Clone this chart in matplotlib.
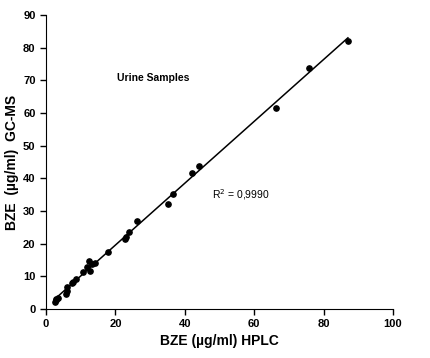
import numpy as np
import matplotlib.pyplot as plt

plt.rcParams['font.family'] = ['Liberation Sans', 'DejaVu Sans']

# BZE concentrations (ug/ml)
hplc = [2.6, 2.8, 3.0, 3.5, 5.8, 6.0, 6.1, 7.4, 7.9, 8.6, 10.8, 11.7, 12.5, 12.7,
        13.2, 14.1, 18.0, 22.9, 23.0, 24.0, 26.1, 35.2, 36.5, 42.1, 44.2, 66.3, 75.8, 87.0]
gcms = [2.2, 2.6, 3.0, 3.5, 4.6, 5.6, 6.8, 7.9, 8.4, 9.1, 11.4, 12.9, 14.8, 11.7,
        13.7, 14.0, 17.4, 21.5, 22.1, 23.6, 27.0, 32.1, 35.1, 41.5, 43.8, 61.5, 73.9, 82.2]
x_ticks = [0, 20, 40, 60, 80, 100]
y_ticks = [0, 10, 20, 30, 40, 50, 60, 70, 80, 90]

x = np.array(hplc)
y = np.array(gcms)
slope, intercept = np.polyfit(x, y, 1)
xl = np.array([x.min(), x.max()])

fig = plt.figure(figsize=(4.3, 3.58), dpi=100)
ax = fig.add_axes([0.107, 0.137, 0.807, 0.821])

ax.plot(xl, slope * xl + intercept, color='black', lw=1.1)
ax.plot(x, y, 'o', color='black', ms=3.8)

ax.set_xlim(0, 100)
ax.set_ylim(0, 90)
ax.set_xticks(x_ticks)
ax.set_yticks(y_ticks)
ax.spines['top'].set_visible(False)
ax.spines['right'].set_visible(False)
ax.tick_params(direction='out', length=4, width=1, labelsize=8)
for lbl in ax.get_xticklabels() + ax.get_yticklabels():
    lbl.set_fontweight('bold')

ax.set_xlabel('BZE (µg/ml) HPLC', fontsize=10, fontweight='bold', labelpad=3)
ax.set_ylabel('BZE  (µg/ml)  GC-MS', fontsize=10, fontweight='bold', labelpad=3)

ax.text(30.9, 70.7, 'Urine Samples', fontsize=7.5, fontweight='bold', ha='center', va='center')
ax.text(56, 34.9, 'R$^2$ = 0,9990', fontsize=7.5, ha='center', va='center')

fig.savefig('out.png', dpi=100)
